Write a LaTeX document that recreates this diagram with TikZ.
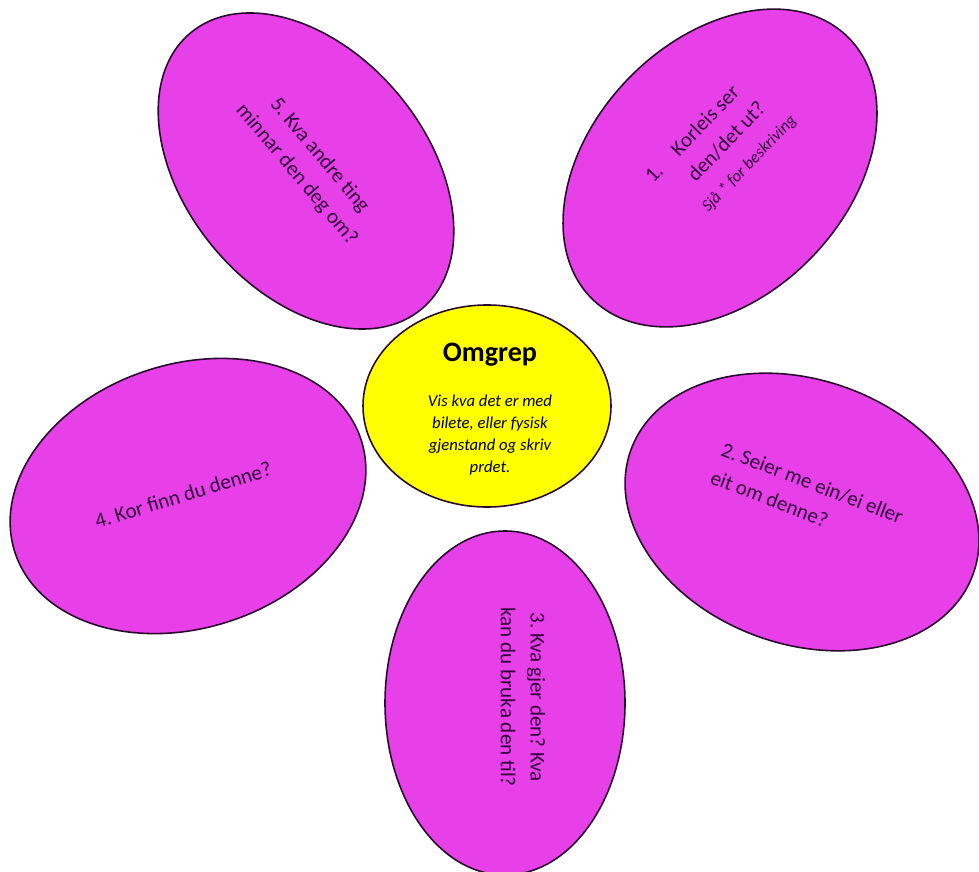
\documentclass[tikz,border=0pt]{standalone}
\usepackage{fontspec}
\setmainfont{Carlito}
\usetikzlibrary{shapes.geometric}
\definecolor{petalfill}{RGB}{232,64,232}
\definecolor{petalline}{RGB}{40,10,45}
\definecolor{petalink}{RGB}{50,5,60}
\definecolor{centrefill}{RGB}{255,255,0}
\frenchspacing

\begin{document}
\begin{tikzpicture}%
            [x = 0.2mm, y = -0.2mm,
             petal/.style = {ellipse, draw = petalline, fill = petalfill, line width = 0.9pt, inner sep = 0pt},
             petallabel/.style = {text = petalink, font = \fontsize{12}{17}\selectfont, align = center, inner sep = 0pt}]
            \useasboundingbox (0,0) rectangle (979,872);
            
            % petals
            \node [petal, minimum width = 73.2mm, minimum height = 51.2mm, rotate = 46] (petal1) at (720,168) {};
            \node [petal, minimum width = 72.8mm, minimum height = 52.8mm, rotate = -20] (petal2) at (802,512) {};
            \node [petal, minimum width = 68.8mm, minimum height = 48mm, rotate = -90] (petal3) at (505,703) {};
            \node [petal, minimum width = 72.8mm, minimum height = 52.8mm, rotate = 18] (petal4) at (188,496) {};
            \node [petal, minimum width = 72mm, minimum height = 48mm, rotate = -50] (petal5) at (306,171) {};
            
            \node [petallabel, rotate = 46] (label1) at (727,142) {\llap{1.\hspace{1em}}Korleis ser\\ den/det ut?\\ {\fontsize{9.5}{12}\selectfont\itshape Sjå * for beskriving}};
            \node [petallabel, rotate = -21, align = left] (label2) at (807,497) {2. Seier me ein/ei eller\\ eit om denne?};
            \node [petallabel, rotate = -90] (label3) at (523,697) {3. Kva gjer den? Kva\\ kan du bruka den til?};
            \node [petallabel, rotate = 17] (label4) at (183,495) {4. Kor finn du denne?};
            \node [petallabel, rotate = -50] (label5) at (308,165) {5. Kva andre ting\\ minnar den deg om?};
            
            % centre
            \node [ellipse, draw = petalline, fill = centrefill, line width = 0.9pt, minimum width = 49.6mm, minimum height = 40.4mm] (centre) at (487,406) {};
            \node [font = \fontsize{16}{19}\selectfont\bfseries] (title) at (490,355) {Omgrep};
            \node [font = \fontsize{9.5}{12.5}\selectfont\itshape, align = center] (hint) at (490,435) {Vis kva det er med\\ bilete, eller fysisk\\ gjenstand og skriv\\ prdet.};
            
        \end{tikzpicture}
\end{document}
